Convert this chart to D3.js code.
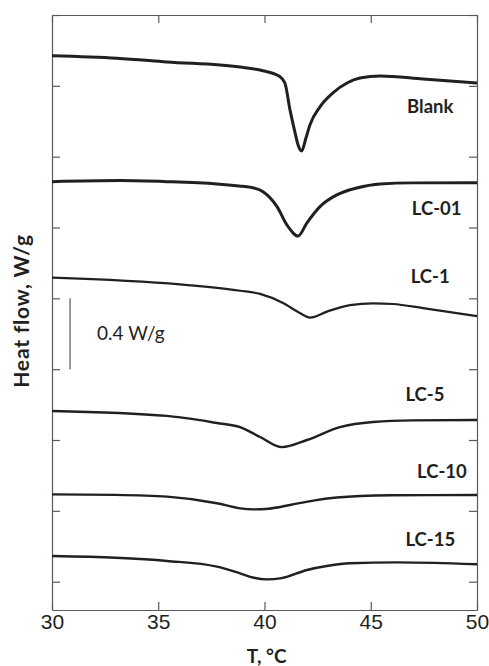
<!DOCTYPE html>
<head>
  <meta charset="utf-8">
  <script src="https://d3js.org/d3.v7.min.js"></script>
  <style>
    body { margin:0; background:#fff; }
    .axis path, .axis line { stroke:#5a5a5a; stroke-width:1.2; }
    .axis text { font-family:"Liberation Sans", Arial, sans-serif; font-size:21px; fill:#231f20; }
    .lbl { font-family:Lato, sans-serif; font-weight:bold; font-size:18.5px; fill:#231f20; }
  </style>
</head>

<body>
  <svg width="489" height="666" id="dsc"></svg>
<script>
  // sample names, top to bottom
  var samples = ["Blank", "LC-01", "LC-1", "LC-5", "LC-10", "LC-15"];

  // temperature (°C) / heat flow (W/g, offset curves)
  var blankT  = [30, 33.06, 35.41, 38.85, 39.79, 40.73, 40.96, 41.2, 41.44, 41.58, 41.75, 41.95, 42.14, 42.61, 43.22, 43.88, 44.49, 45.44, 47.46, 50];
  var blankHF = [2.970, 2.956, 2.935, 2.906, 2.889, 2.852, 2.816, 2.664, 2.534, 2.466, 2.432, 2.505, 2.580, 2.681, 2.760, 2.816, 2.844, 2.856, 2.839, 2.816];

  var lc01T  = [30, 33.2, 35.41, 37.76, 38.8, 39.32, 39.93, 40.59, 41.06, 41.58, 41.99, 42.61, 43.4, 44.34, 45.44, 47, 50];
  var lc01HF = [2.259, 2.265, 2.259, 2.246, 2.235, 2.228, 2.202, 2.118, 2.014, 1.952, 2.025, 2.118, 2.184, 2.223, 2.246, 2.252, 2.253];

  var lc1T  = [30, 36.02, 38.85, 39.79, 40.87, 41.67, 42.14, 42.94, 44.02, 45.11, 46.05, 47.46, 50];
  var lc1HF = [1.717, 1.679, 1.643, 1.625, 1.574, 1.517, 1.491, 1.525, 1.562, 1.572, 1.568, 1.545, 1.500];

  var lc5T  = [30, 35.41, 37.76, 38.85, 39.79, 40.82, 42.0, 43.55, 45.11, 47, 50];
  var lc5HF = [0.964, 0.936, 0.896, 0.873, 0.817, 0.760, 0.800, 0.873, 0.902, 0.911, 0.913];

  var lc10T  = [30, 33, 35.41, 37.76, 38.85, 39.5, 40.2, 41.2, 42.3, 43.4, 44.5, 46, 50];
  var lc10HF = [0.493, 0.490, 0.480, 0.443, 0.414, 0.408, 0.412, 0.433, 0.458, 0.475, 0.484, 0.488, 0.489];

  var lc15T  = [30, 33, 35.41, 37.76, 38.85, 39.5, 40.1, 40.8, 42.0, 43.0, 44.0, 46.24, 48, 50];
  var lc15HF = [0.145, 0.135, 0.117, 0.085, 0.047, 0.022, 0.013, 0.020, 0.066, 0.090, 0.104, 0.109, 0.106, 0.098];

  var xTicks = [30, 35, 40, 45, 50];
  var yTicks = [0, 0.4, 0.8, 1.2, 1.6, 2.0, 2.4, 2.8, 3.2];
  var scaleBar = [1.2, 1.6];   // 0.4 W/g

  var series = [
    {name: samples[0], t: blankT, hf: blankHF},
    {name: samples[1], t: lc01T,  hf: lc01HF},
    {name: samples[2], t: lc1T,   hf: lc1HF},
    {name: samples[3], t: lc5T,   hf: lc5HF},
    {name: samples[4], t: lc10T,  hf: lc10HF},
    {name: samples[5], t: lc15T,  hf: lc15HF}
  ];

  var svg = d3.select("#dsc"),
    margin = {top: 15, right: 12, bottom: 56, left: 52},
    width = svg.attr("width") - margin.left - margin.right,
    height = svg.attr("height") - margin.top - margin.bottom,
    g = svg.append("g").attr("transform", "translate(" + margin.left + "," + margin.top + ")");

  var x = d3.scaleLinear().domain([30, 50]).range([0, width]),
      y = d3.scaleLinear().domain([-0.16, 3.2]).range([height, 0]);

  // frame with inward ticks on all four sides
  g.append("g").attr("class", "axis")
    .attr("transform", "translate(0," + height + ")")
    .call(d3.axisBottom(x).tickValues(xTicks).tickSizeInner(-8).tickSizeOuter(0).tickPadding(4));
  g.append("g").attr("class", "axis")
    .call(d3.axisTop(x).tickValues(xTicks).tickSizeInner(-8).tickSizeOuter(0).tickFormat(""));
  g.append("g").attr("class", "axis")
    .call(d3.axisLeft(y).tickValues(yTicks).tickSizeInner(-8).tickSizeOuter(0).tickFormat(""));
  g.append("g").attr("class", "axis")
    .attr("transform", "translate(" + width + ",0)")
    .call(d3.axisRight(y).tickValues(yTicks).tickSizeInner(-8).tickSizeOuter(0).tickFormat(""));

  var line = d3.line()
    .x(function(d) { return x(d[0]); })
    .y(function(d) { return y(d[1]); })
    .curve(d3.curveMonotoneX);

  var widths = [3, 3, 2.2, 2.4, 2.4, 2.4];

  g.selectAll(".curve").data(series).enter().append("path")
    .attr("class", "curve")
    .attr("fill", "none")
    .attr("stroke", "#231f20")
    .attr("stroke-linejoin", "round")
    .attr("stroke-width", function(d, i) { return widths[i]; })
    .attr("d", function(d) { return line(d.t.map(function(t, i) { return [t, d.hf[i]]; })); });

  // curve labels (x in °C, y in W/g)
  var labelPos = [[47.8, 2.647], [48.1, 2.071], [47.8, 1.687], [47.55, 1.020], [48.35, 0.585], [47.8, 0.201]];
  g.selectAll(".lbl").data(series).enter().append("text")
    .attr("class", "lbl")
    .attr("text-anchor", "middle")
    .attr("x", function(d, i) { return x(labelPos[i][0]); })
    .attr("y", function(d, i) { return y(labelPos[i][1]); })
    .text(function(d) { return d.name; });

  // 0.4 W/g scale bar
  g.append("line")
    .attr("x1", x(30.85)).attr("x2", x(30.85))
    .attr("y1", y(scaleBar[0])).attr("y2", y(scaleBar[1]))
    .attr("stroke", "#777").attr("stroke-width", 1.5);
  g.append("text")
    .attr("x", x(32.12)).attr("y", y(1.365))
    .style("font-family", "Lato, sans-serif").style("font-size", "19px").style("fill", "#231f20")
    .text("0.4 W/g");

  // axis titles
  svg.append("text")
    .attr("class", "lbl").style("font-size", "19px")
    .attr("text-anchor", "middle")
    .attr("x", margin.left + x(40.1)).attr("y", 663)
    .text("T, °C");
  svg.append("text")
    .attr("class", "lbl").style("font-size", "21px").style("letter-spacing", "0.8px")
    .attr("text-anchor", "middle")
    .attr("transform", "translate(28.5,311) rotate(-90)")
    .text("Heat flow, W/g");
</script>
</body>
